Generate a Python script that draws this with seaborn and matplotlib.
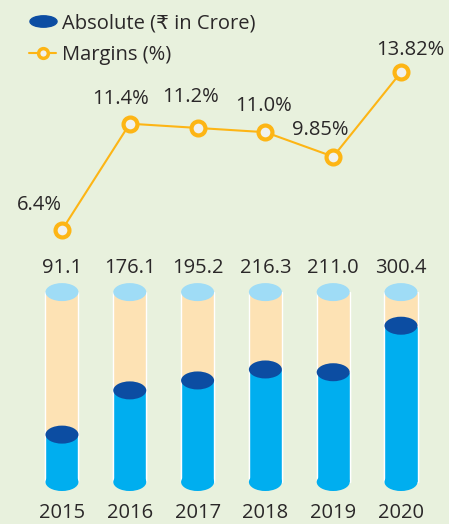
import matplotlib.pyplot as plt
import seaborn as sns
from matplotlib.patches import Ellipse
from matplotlib.lines import Line2D
from matplotlib.path import Path
from matplotlib.transforms import Affine2D

# data
years = ['2015', '2016', '2017', '2018', '2019', '2020']
absolute = [91.1, 176.1, 195.2, 216.3, 211.0, 300.4]
margins = [6.4, 11.4, 11.2, 11.0, 9.85, 13.82]
margin_labels = ['6.4%', '11.4%', '11.2%', '11.0%', '9.85%', '13.82%']

bg = '#e8f1dd'
peach = '#fde2b4'
light_blue = '#9fdcf6'
blue = '#00aeef'
dark_blue = '#0c4da2'
orange = '#fdb515'
txt = '#2a2728'

sns.set_theme(style='white')
plt.rcParams['font.family'] = ['Open Sans', 'DejaVu Sans']

fig = plt.figure(figsize=(4.49, 5.24), dpi=100)
fig.patch.set_facecolor(bg)

xpos = list(range(len(years)))
xlim = (-0.914, 5.708)
bar_w = 0.487
capacity = 365  # height of the empty cylinder

# cylinders
ax = fig.add_axes([0, 0, 1, 1])
ax.set_facecolor('none')
ax.bar(xpos, [capacity] * len(years), width=bar_w, color=peach, zorder=1)
sns.barplot(x=years, y=absolute, color=blue, width=bar_w, saturation=1,
            ax=ax, zorder=3)
ell_h = 34.6
for i, v in enumerate(absolute):
    ax.add_patch(Ellipse((i, capacity), bar_w, ell_h, color=light_blue, zorder=2, lw=0))
    ax.add_patch(Ellipse((i, 0), bar_w, ell_h, color=blue, zorder=3, lw=0))
    ax.add_patch(Ellipse((i, v), bar_w, ell_h, color=dark_blue, zorder=4, lw=0))
    ax.annotate(f'{v:.1f}', (i, capacity), xytext=(0, 17.6), textcoords='offset points',
                ha='center', va='center', fontsize=14.5, color=txt)
    ax.annotate(years[i], (i, 0), xytext=(0, -22.3), textcoords='offset points',
                ha='center', va='center', fontsize=14.5, color=txt)
ax.set_xlim(*xlim)
ax.set_ylim(-80.7, 926.4)
ax.axis('off')

# margin line
ax2 = fig.add_axes([0, 0, 1, 1])
ax2.set_facecolor('none')
sns.lineplot(x=xpos, y=margins, ax=ax2, color=orange, lw=1.5, marker='o',
             ms=10, mfc='#f0f1ee', mec=orange, mew=3)
dx = [-16, -7, -5, -1, -9, 7]
dy = [18, 18, 22, 19, 19, 16]
for i, (m, lab) in enumerate(zip(margins, margin_labels)):
    ax2.annotate(lab, (i, m), xytext=(dx[i], dy[i]), textcoords='offset points',
                 ha='center', va='center', fontsize=14.5, color=txt)
ax2.set_xlim(*xlim)
ax2.set_ylim(-7.435, 17.22)
ax2.axis('off')

# legend
ellipse_marker = Path.unit_circle().transformed(Affine2D().scale(1, 0.42))
handles = [
    Line2D([], [], linestyle='none', marker=ellipse_marker, ms=19.5,
           color=dark_blue, label='Absolute (₹ in Crore)'),
    Line2D([], [], color=orange, lw=1.5, marker='o', ms=7, mfc='#f0f1ee',
           mec=orange, mew=2.5, label='Margins (%)'),
]
fig.legend(handles=handles, loc='upper left', bbox_to_anchor=(29 / 449, 1 - 13 / 524),
           frameon=False, fontsize=14.5, handlelength=1.35, handletextpad=0.3,
           labelspacing=0.6, borderpad=0, borderaxespad=0, labelcolor=txt)

fig.savefig('out.png', dpi=100, facecolor=bg)
